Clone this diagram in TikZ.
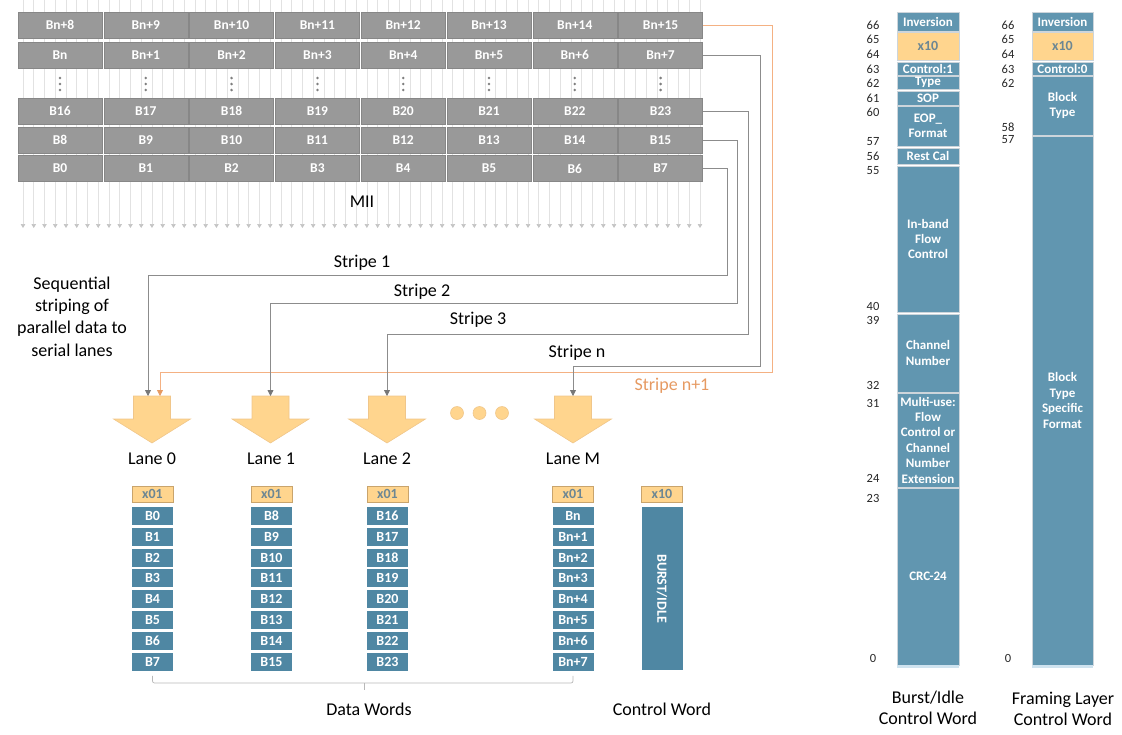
\documentclass[tikz,border=0pt]{standalone}
\usepackage{fontspec}
\setmainfont{Carlito}
\usetikzlibrary{arrows.meta}

\definecolor{cellgray}{HTML}{999999}
\definecolor{miigray}{HTML}{E2E2E2}
\definecolor{miitip}{HTML}{C4C4C4}
\definecolor{dotgray}{HTML}{7F7F7F}
\definecolor{stripegray}{HTML}{8C8C8C}
\definecolor{stripeorange}{HTML}{F4B183}
\definecolor{labelorange}{HTML}{E69A62}
\definecolor{laneorange}{HTML}{FFD58E}
\definecolor{laneedge}{HTML}{F0C68A}
\definecolor{tagedge}{HTML}{C9A46C}
\definecolor{tagtext}{HTML}{6D8793}
\definecolor{laneblue}{HTML}{4F87A3}
\definecolor{fieldblue}{HTML}{6196B0}
\definecolor{fieldline}{HTML}{CDD5DB}
\definecolor{fieldfoot}{HTML}{CFE3EF}

\tikzset{
  mii/.style={draw=miigray, line width=0.7pt, -{Triangle[width=4.5pt,length=4pt,color=miitip]}},
  cell/.style={rectangle, fill=cellgray, draw=cellgray!88!black, line width=0.4pt,
    minimum width=84pt, minimum height=26pt, inner sep=0pt, text=white,
    font=\bfseries\fontsize{13.5}{15}\selectfont},
  stripe/.style={draw=stripegray, line width=0.8pt, -{Triangle[width=6pt,length=6pt,color=stripegray!85!black]}},
  stripen1/.style={stripe, draw=stripeorange, -{Triangle[width=6pt,length=6pt,color=labelorange]}},
  lanearrow/.style={fill=laneorange, draw=laneedge, line width=0.6pt},
  lanedot/.style={circle, fill=laneorange, draw=laneedge, line width=0.6pt, minimum size=13pt, inner sep=0pt},
  caption/.style={font=\fontsize{18}{20.5}\selectfont, inner sep=0pt, align=center},
  tag/.style={rectangle, fill=laneorange, draw=tagedge, line width=0.6pt, minimum width=41pt,
    minimum height=16pt, inner sep=0pt, text=tagtext, font=\bfseries\fontsize{14}{15}\selectfont},
  word/.style={rectangle, fill=laneblue, minimum width=41pt, minimum height=18pt, inner sep=0pt,
    text=white, font=\bfseries\fontsize{14}{15}\selectfont},
  bracket/.style={draw=black!28, line width=0.7pt, rounded corners=2pt},
  field/.style={rectangle, fill=fieldblue, draw=fieldline, line width=1pt, minimum width=62pt,
    inner sep=0pt, align=center, text=white, font=\bfseries\fontsize{13}{15.4}\selectfont},
  fieldtag/.style={field, fill=laneorange, text=tagtext, font=\bfseries\fontsize{14}{15.4}\selectfont},
  fieldfoot/.style={rectangle, fill=fieldfoot, minimum width=62pt, minimum height=3pt, inner sep=0pt},
  bitnum/.style={font=\fontsize{12.5}{14}\selectfont, text=black!85, inner sep=0pt}
}

\begin{document}
\begin{tikzpicture}[x=1pt,y=-1pt]
\useasboundingbox (0,0) rectangle (1122,734);

% MII bit lines behind the byte grid
\foreach \i in {0,...,63}
  \draw[mii] ({23+10.746*\i},0) -- ({23+10.746*\i},228);

% byte grid
\foreach \c in {0,...,7} {
  \pgfmathsetmacro\x{60+85.8*\c}
  \pgfmathtruncatemacro\ka{8+\c}
  \pgfmathtruncatemacro\kb{16+\c}
  \node[cell] (g-4-\c) at (\x,25) {Bn+\ka};
  \node[cell] (g-3-\c) at (\x,55) {\ifnum\c=0 Bn\else Bn+\c\fi};
  \node[cell] (g-2-\c) at (\x,111) {B\kb};
  \node[cell] (g-1-\c) at (\x,140) {B\ka};
  \node[cell] (g-0-\c) at (\x,168.5) {B\c};
  \foreach \y in {78,84,90}
    \fill[dotgray] (\x,\y) circle[radius=1.4pt];
}
\node[caption] (mii) at (362,202) {MII};

% lane arrows
\coordinate (lane0) at (152,396);
\coordinate (lane1) at (270.5,396);
\coordinate (lane2) at (387,396);
\coordinate (laneM) at (573,396);
\filldraw[lanearrow] (lane0) ++(-18.5,0) -- ++(37,0) -- ++(0,23) -- ++(20,0) -- ++(-38.5,24) -- ++(-38.5,-24) -- ++(20,0) -- cycle;
\filldraw[lanearrow] (lane1) ++(-18.5,0) -- ++(37,0) -- ++(0,23) -- ++(20,0) -- ++(-38.5,24) -- ++(-38.5,-24) -- ++(20,0) -- cycle;
\filldraw[lanearrow] (lane2) ++(-18.5,0) -- ++(37,0) -- ++(0,23) -- ++(20,0) -- ++(-38.5,24) -- ++(-38.5,-24) -- ++(20,0) -- cycle;
\filldraw[lanearrow] (laneM) ++(-18.5,0) -- ++(37,0) -- ++(0,23) -- ++(20,0) -- ++(-38.5,24) -- ++(-38.5,-24) -- ++(20,0) -- cycle;

\node[lanedot] (dot1) at (457,413) {};
\node[lanedot] (dot2) at (479.5,413) {};
\node[lanedot] (dot3) at (502,413) {};

\node[caption] (lab0) at (152,459) {Lane 0};
\node[caption] (lab1) at (271,459) {Lane 1};
\node[caption] (lab2) at (387,459) {Lane 2};
\node[caption] (labM) at (573,459) {Lane M};

% stripes from the grid to the lanes
\coordinate (s1) at (727,275);
\coordinate (s2) at (737,303);
\coordinate (s3) at (748,334);
\coordinate (sn) at (760,366);
\coordinate (sm) at (772,372);
\draw[stripen1] (g-4-7.east) -| (sm) -| ([xshift=8pt]lane0);
\draw[stripe] (g-0-7.east) -| (s1) -| ([xshift=-4pt]lane0);
\draw[stripe] (g-1-7.east) -| (s2) -| (lane1);
\draw[stripe] (g-2-7.east) -| (s3) -| (lane2);
\draw[stripe] (g-3-7.east) -| (sn) -| (laneM);

\node[caption] (st1) at (362,263) {Stripe 1};
\node[caption] (st2) at (422,292) {Stripe 2};
\node[caption] (st3) at (478,320) {Stripe 3};
\node[caption] (stn) at (577,353) {Stripe n};
\node[caption, text=labelorange] (stm) at (672,386) {Stripe n+1};

\node[caption, font=\fontsize{18}{22.3}\selectfont] (seq) at (72,316.5) {Sequential\\striping of\\parallel data to\\serial lanes};

% data words per lane
\foreach \c/\x in {0/152.5,1/271.5,2/387.5} {
  \node[tag] (t\c) at (\x,494) {x01};
  \foreach \r in {0,...,7} {
    \pgfmathtruncatemacro\k{8*\c+\r}
    \node[word] (w\c-\r) at (\x,{516+20.8*\r}) {B\k};
  }
}
\node[tag] (tM) at (573,494) {x01};
\foreach \r in {0,...,7}
  \node[word] (wM-\r) at (573,{516+20.8*\r}) {\ifnum\r=0 Bn\else Bn+\r\fi};

% control word
\node[tag] (tC) at (662,494) {x10};
\node[word, minimum height=163pt] (burst) at (662,588.5) {};
\node[word, fill=none, rotate=-90] (burst-text) at (burst) {BURST/IDLE};

\coordinate (dw) at (364,683);
\draw[bracket] ([yshift=-5pt]w0-7.south) |- (dw) -| ([yshift=-5pt]wM-7.south);
\draw[bracket] (dw) -- ++(0,7);
\node[caption] (datawords) at (369,709) {Data Words};
\node[caption] (ctrlword) at (662,709) {Control Word};

% burst/idle control word
\node[field, minimum height=19pt] (bi-inv) at (928,21.5) {Inversion};
\node[fieldtag, minimum height=28pt] (bi-x10) at (928,46) {x10};
\node[field, minimum height=13pt] (bi-ctl) at (928,68.5) {Control:1};
\node[field, minimum height=13pt] (bi-type) at (928,82.5) {Type};
\node[field, minimum height=14pt] (bi-sop) at (928,98) {SOP};
\node[field, minimum height=40pt] (bi-eop) at (928,126) {EOP\_\\Format};
\node[field, minimum height=16pt] (bi-rest) at (928,156) {Rest Cal};
\node[field, minimum height=146pt] (bi-flow) at (928,239) {In-band\\Flow\\Control};
\node[field, minimum height=78pt] (bi-chan) at (928,353) {Channel\\Number};
\node[field, minimum height=94pt] (bi-multi) at (928,440) {Multi-use:\\Flow\\Control or\\Channel\\Number\\Extension};
\node[field, minimum height=177pt] (bi-crc) at (928,576.5) {CRC-24};
\node[fieldfoot] (bi-foot) at (928,666.5) {};
\foreach \n/\y in {66/25,65/39,64/54,63/69,62/83,61/98,60/112,57/142,56/156,55/171,40/306,39/320,32/385,31/403,24/478,23/498,0/658}
  \node[bitnum] (bi-bit\n) at (873,\y) {\n};
\node[caption] (bi-cap) at (928,708) {Burst/Idle\\Control Word};

% framing layer control word
\node[field, minimum width=61pt, minimum height=19pt] (fl-inv) at (1062.5,21.5) {Inversion};
\node[fieldtag, minimum width=61pt, minimum height=28pt] (fl-x10) at (1062.5,46) {x10};
\node[field, minimum width=61pt, minimum height=13pt] (fl-ctl) at (1062.5,68.5) {Control:0};
\node[field, minimum width=61pt, minimum height=59pt] (fl-type) at (1062.5,105.5) {Block\\Type};
\node[field, minimum width=61pt, minimum height=529pt] (fl-spec) at (1062.5,400.5) {Block\\Type\\Specific\\Format};
\node[fieldfoot, minimum width=61pt] (fl-foot) at (1062.5,666.5) {};
\foreach \n/\y in {66/25,65/39,64/54,63/69,62/83,58/127,57/140,0/658}
  \node[bitnum] (fl-bit\n) at (1008,\y) {\n};
\node[caption] (fl-cap) at (1063,709) {Framing Layer\\Control Word};

\end{tikzpicture}
\end{document}
